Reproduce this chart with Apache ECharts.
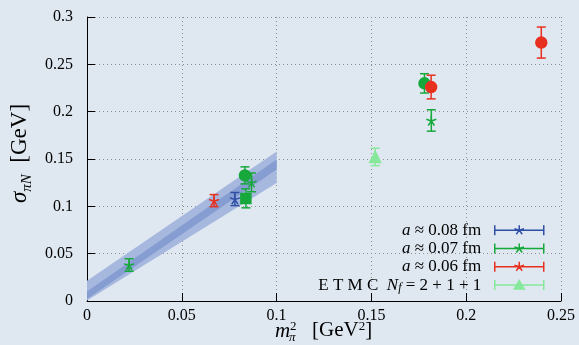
<!DOCTYPE html>
<html>
<head>
<meta charset="utf-8">
<script src="https://cdn.jsdelivr.net/npm/echarts@6/dist/echarts.min.js"></script>
<style>
  html, body { margin: 0; padding: 0; background: #dfe8f1; }
  #chart { width: 579px; height: 345px; }
</style>
</head>
<body>
<div id="chart"></div>
<script>
// Axis ticks
const xTicks = [0, 0.05, 0.1, 0.15, 0.2, 0.25];
const yTicks = [0, 0.05, 0.1, 0.15, 0.2, 0.25, 0.3];

// Lattice ensembles: m_pi^2 [GeV^2], sigma [GeV], error, marker shape
const a08X = [0.078];
const a08Y = [0.1077];
const a08Err = [0.0069];
const a08Shape = ['star'];

const a07X = [0.0222, 0.0868, 0.0833, 0.0838, 0.1816, 0.178];
const a07Y = [0.038, 0.1253, 0.1327, 0.1084, 0.1907, 0.2299];
const a07Err = [0.0066, 0.0099, 0.009, 0.010, 0.0113, 0.0102];
const a07Shape = ['star', 'star', 'circle', 'square', 'star', 'circle'];

const a06X = [0.067, 0.1815, 0.2396];
const a06Y = [0.106, 0.226, 0.273];
const a06Err = [0.0064, 0.0125, 0.0164];
const a06Shape = ['star', 'circle', 'circle'];

const etmcX = [0.152];
const etmcY = [0.1522];
const etmcErr = [0.0092];
const etmcShape = ['triangle'];

// Chiral fit band (outer and inner uncertainty bands)
const bandX = [0, 0.1];
const outerLo = [0.0005, 0.1247];
const outerHi = [0.0215, 0.158];
const innerLo = [0.002, 0.1388];
const innerHi = [0.010, 0.1494];

const FONT = 'Liberation Serif';
const STAR = 'path://M0 0L0 -10M0 0L9.51 -3.09M0 0L5.88 8.09M0 0L-5.88 8.09M0 0L-9.51 -3.09';
const ERR_ICON = 'M0 6L50 6M0.5 1L0.5 11M49.5 1L49.5 11';
const STAR_ICON = 'path://' + ERR_ICON + 'M25 6L25 1M25 6L29.76 4.45M25 6L27.94 10.05M25 6L22.06 10.05M25 6L20.24 4.45';
const TRI_ICON = 'path://' + ERR_ICON + 'M25 1.5L30 10L20 10Z';

const shapeSymbol = { star: STAR, circle: 'circle', square: 'rect', triangle: 'triangle' };
const shapeSize = { star: [10, 10], circle: 11, square: 10, triangle: 11 };

function points(xs, ys, shapes) {
  return xs.map((x, i) => ({
    value: [x, ys[i]],
    symbol: shapeSymbol[shapes[i]],
    symbolSize: shapeSize[shapes[i]]
  }));
}
function errData(xs, ys, es) {
  return xs.map((x, i) => [x, ys[i], es[i]]);
}

function errorBarSeries(xs, ys, es, color) {
  return {
    type: 'custom',
    silent: true,
    z: 3,
    encode: { x: 0, y: 1 },
    data: errData(xs, ys, es),
    renderItem: function (params, api) {
      const x = api.value(0), y = api.value(1), e = api.value(2);
      const top = api.coord([x, y + e]);
      const bot = api.coord([x, y - e]);
      const w = 4.5;
      const st = { stroke: color, lineWidth: 1.5 };
      return {
        type: 'group',
        children: [
          { type: 'line', shape: { x1: top[0], y1: top[1], x2: bot[0], y2: bot[1] }, style: st },
          { type: 'line', shape: { x1: top[0] - w, y1: top[1], x2: top[0] + w, y2: top[1] }, style: st },
          { type: 'line', shape: { x1: bot[0] - w, y1: bot[1], x2: bot[0] + w, y2: bot[1] }, style: st }
        ]
      };
    }
  };
}

function bandSeries(lo, hi, color, z) {
  return {
    type: 'custom',
    silent: true,
    z: z,
    encode: { x: 0, y: 1 },
    data: bandX.map((x, i) => [x, lo[i], hi[i]]),
    renderItem: function (params, api) {
      if (params.dataIndex !== 0) return null;
      const pts = [];
      for (let i = 0; i < bandX.length; i++) pts.push(api.coord([bandX[i], hi[i]]));
      for (let i = bandX.length - 1; i >= 0; i--) pts.push(api.coord([bandX[i], lo[i]]));
      return { type: 'polygon', shape: { points: pts }, style: { fill: color } };
    }
  };
}

const C08 = '#2f4fa6';
const C07 = '#17a83c';
const C06 = '#e8301f';
const CET = '#86e89a';

function scatterSeries(name, xs, ys, shapes, color) {
  return {
    name: name,
    type: 'scatter',
    z: 4,
    data: points(xs, ys, shapes),
    itemStyle: { color: color, borderColor: color, borderWidth: 1.5, opacity: 1 }
  };
}

const legendLabels = {
  a08: '{i|a} ≈ 0.08 fm',
  a07: '{i|a} ≈ 0.07 fm',
  a06: '{i|a} ≈ 0.06 fm',
  etmc: 'E T M C  {i|N}{sub|f} = 2 + 1 + 1'
};

const chart = echarts.init(document.getElementById('chart'), null, { renderer: 'canvas' });
chart.setOption({
  backgroundColor: '#dfe8f1',
  animation: false,
  grid: { left: 87, right: 18, top: 17, bottom: 44, containLabel: false },
  xAxis: {
    type: 'value', min: xTicks[0], max: xTicks[xTicks.length - 1], interval: 0.05,
    axisLine: { lineStyle: { color: '#000', width: 1 } },
    axisTick: { inside: true, length: 8, lineStyle: { color: '#000' } },
    axisLabel: { color: '#000', fontFamily: FONT, fontSize: 16, margin: 7 },
    splitLine: { show: true, lineStyle: { color: '#8d8f93', type: [1, 3], width: 1 } }
  },
  yAxis: {
    type: 'value', min: yTicks[0], max: yTicks[yTicks.length - 1], interval: 0.05,
    axisLine: { show: true, lineStyle: { color: '#000', width: 1 } },
    axisTick: { show: true, inside: true, length: 8, lineStyle: { color: '#000' } },
    axisLabel: { color: '#000', fontFamily: FONT, fontSize: 16, margin: 14 },
    splitLine: { show: true, lineStyle: { color: '#8d8f93', type: [1, 3], width: 1 } },
    name: '{s|σ}{sub|πN}  [GeV]',
    nameLocation: 'middle',
    nameRotate: 90,
    nameGap: 52,
    nameTextStyle: {
      color: '#000', fontFamily: FONT, fontSize: 23,
      padding: [0, 0, 0, 11],
      rich: {
        s: { fontFamily: FONT, fontSize: 23, fontStyle: 'italic', lineHeight: 28, color: '#000' },
        sub: { fontFamily: FONT, fontSize: 15, fontStyle: 'italic', lineHeight: 15, verticalAlign: 'bottom', color: '#000' }
      }
    }
  },
  legend: {
    orient: 'vertical',
    right: 29,
    top: 216,
    align: 'right',
    itemWidth: 50,
    itemHeight: 10,
    itemGap: 0,
    selectedMode: false,
    itemStyle: { borderWidth: 1.5 },
    data: [
      { name: 'a08', icon: STAR_ICON },
      { name: 'a07', icon: STAR_ICON },
      { name: 'a06', icon: STAR_ICON },
      { name: 'etmc', icon: TRI_ICON }
    ],
    formatter: function (name) { return legendLabels[name]; },
    textStyle: {
      color: '#000', fontFamily: FONT, fontSize: 17, lineHeight: 18.3,
      padding: [0, 8, 0, 0],
      rich: {
        i: { fontFamily: FONT, fontSize: 17, fontStyle: 'italic', lineHeight: 18.3, color: '#000' },
        sub: { fontFamily: FONT, fontSize: 12, fontStyle: 'italic', lineHeight: 12, verticalAlign: 'bottom', color: '#000' }
      }
    }
  },
  graphic: [
    { type: 'text', left: 275, top: 321, style: { text: 'm', font: 'italic 21px "Liberation Serif"', fill: '#000' } },
    { type: 'text', left: 290, top: 320, style: { text: '2', font: '13px "Liberation Serif"', fill: '#000' } },
    { type: 'text', left: 289, top: 331, style: { text: 'π', font: 'italic 13px "Liberation Serif"', fill: '#000' } },
    {
      type: 'text', left: 312, top: 320,
      style: {
        text: '[GeV{sup|2}]',
        font: '21px "Liberation Serif"', fill: '#000',
        rich: { sup: { fontFamily: FONT, fontSize: 13, verticalAlign: 'top', lineHeight: 14, fill: '#000' } }
      }
    }
  ],
  series: [
    bandSeries(outerLo, outerHi, '#a6b8de', 1),
    bandSeries(innerLo, innerHi, '#869dd2', 2),
    errorBarSeries(a08X, a08Y, a08Err, C08),
    errorBarSeries(a07X, a07Y, a07Err, C07),
    errorBarSeries(a06X, a06Y, a06Err, C06),
    errorBarSeries(etmcX, etmcY, etmcErr, CET),
    scatterSeries('a08', a08X, a08Y, a08Shape, C08),
    scatterSeries('a07', a07X, a07Y, a07Shape, C07),
    scatterSeries('a06', a06X, a06Y, a06Shape, C06),
    scatterSeries('etmc', etmcX, etmcY, etmcShape, CET)
  ]
});
</script>
</body>
</html>
